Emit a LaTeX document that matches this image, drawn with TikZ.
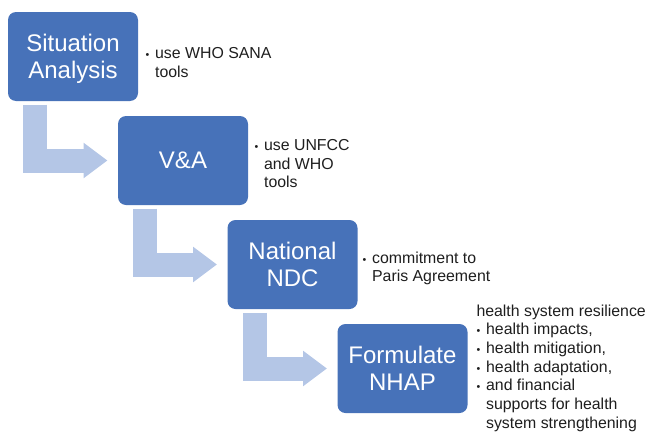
\documentclass[tikz,border=0pt]{standalone}
\usepackage{fontspec}
\setmainfont{Liberation Sans}
\usetikzlibrary{arrows.meta}

\definecolor{stepblue}{RGB}{71,114,185}
\definecolor{flowblue}{RGB}{180,198,230}
\definecolor{notegray}{RGB}{30,30,30}

\newcommand{\bul}{\makebox[7.2pt][l]{\fontsize{8}{8}\selectfont\textbullet}}
\newcommand{\steptext}[1]{\raisebox{-2.25pt}[\height][\depth]{\begin{tabular}{@{}c@{}}#1\end{tabular}}}

\tikzset{every picture/.style={line width=0.75pt}}
\tikzset{
  stepbox/.style={fill=stepblue, rounded corners=6pt, minimum width=97.5pt, minimum height=66.75pt,
    text=white, inner sep=0pt, font=\fontsize{18}{20.25}\selectfont},
  note/.style={anchor=north west, inner sep=0pt, align=left, text=notegray,
    font=\fontsize{11.9}{14}\selectfont},
  flow/.style={draw=flowblue, line width=18pt, line cap=butt, line join=miter,
    -{Triangle[length=18pt, width=25.5pt]}, shorten <=2.25pt, shorten >=7.5pt}
}

\begin{document}
\begin{tikzpicture}[x=0.75pt,y=0.75pt,yscale=-1,xscale=1]
\useasboundingbox (0,0) rectangle (649,432);

% steps
\node [stepbox] (sa) at (73,56.5) {\steptext{Situation\\Analysis}};
\node [stepbox] (va) at (183,160.5) {\steptext{V\&A}};
\node [stepbox] (ndc) at (292.5,264.5) {\steptext{National\\NDC}};
\node [stepbox] (nhap) at (402.5,368.5) {\steptext{Formulate\\NHAP}};

% elbow arrows
\draw [flow] ([xshift=-28.5pt]sa.south) |- (va.west);
\draw [flow] ([xshift=-28.5pt]va.south) |- (ndc.west);
\draw [flow] ([xshift=-28.5pt]ndc.south) |- (nhap.west);

% notes
\node [note] (n1) at (145,47) {\bul use WHO SANA\\\hphantom{\bul}tools};
\node [note] (n2) at (254,139) {\bul use UNFCC\\\hphantom{\bul}and WHO\\\hphantom{\bul}tools};
\node [note] (n3) at (362,251) {\bul commitment to\\\hphantom{\bul}Paris Agreement};
\node [note] (n4) at (476,304) {health system resilience\\\bul health impacts,\\\bul health mitigation,\\\bul health adaptation,\\\bul and financial\\\hphantom{\bul}supports for health\\\hphantom{\bul}system strengthening};

\end{tikzpicture}
\end{document}
